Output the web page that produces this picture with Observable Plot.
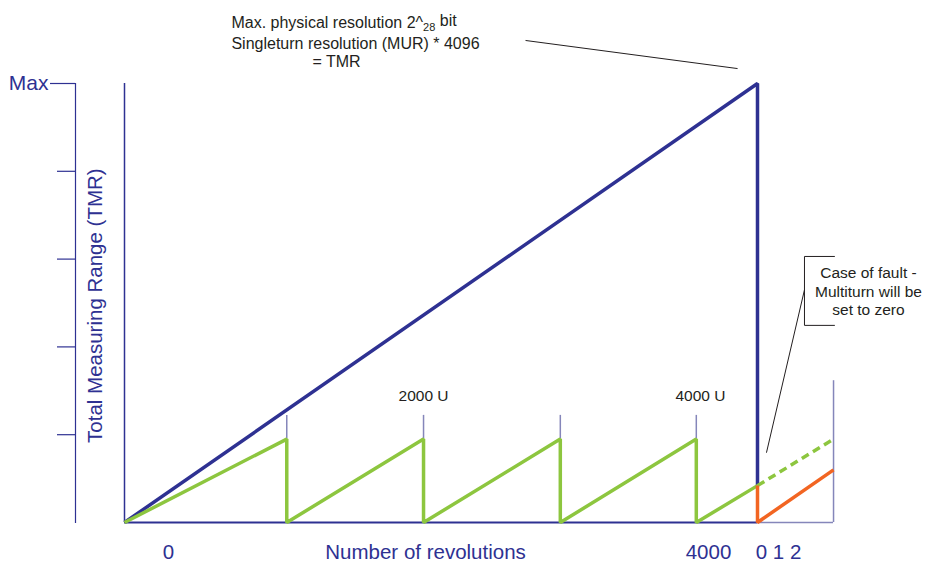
<!DOCTYPE html>
<html>
<head>
<meta charset="utf-8">
<script src="https://cdn.jsdelivr.net/npm/d3@7"></script>
<script src="https://cdn.jsdelivr.net/npm/@observablehq/plot@0.6"></script>
<style>
  html, body { margin: 0; padding: 0; background: #fff; }
  #chart svg { display: block; font-family: "Liberation Sans", Arial, sans-serif; }
</style>
</head>
<body>
<div id="chart"></div>
<script>
// ---- data (revolutions on x, % of total measuring range on y) ----
const toothRevs = [1050, 1935, 2820, 3700];           // multiturn step marks
const fullRev = 4096;                                  // max revolutions
const endRev = 4588;                                   // right end after restart (0 1 2)
const singleturnRev = [0, 1050, 1050, 1935, 1935, 2820, 2820, 3700, 3700, 4096];
const singleturnVal = [0, 19, 0, 19, 0, 19, 0, 19, 0, 8.4];
const totalRev = [0, 4096, 4096];
const totalVal = [0, 100, 8.4];
const projectedRev = [4096, 4588];
const projectedVal = [8.4, 19];
const faultRev = [4096, 4096, 4588];
const faultVal = [8.4, 0, 12];
const yTicks = [20, 40, 60, 80];
const yMax = 100;
const xTickLabels = ["0", "4000", "0 1 2"];
const xTickRevs = [285, 3779, 4232];
const stepLabels = ["2000 U", "4000 U"];
const stepLabelRevs = [1935, 3727];

const toPts = (xs, ys) => xs.map((x, i) => ({x, y: ys[i]}));

const NAVY = "#2e3192";
const GREEN = "#8dc63f";
const ORANGE = "#f26522";
const LIGHT = "#8586ba";
const INK = "#231f20";

const lineOpts = {x: "x", y: "y", strokeWidth: 3.5, strokeLinejoin: "miter", strokeLinecap: "butt"};

const plot = Plot.plot({
  width: 925,
  height: 565,
  marginLeft: 75,
  marginRight: 92,
  marginTop: 83,
  marginBottom: 43,
  style: {background: "#fff", overflow: "visible", fontFamily: "'Liberation Sans', Arial, sans-serif"},
  x: {domain: [0, fullRev], range: [124, 757], axis: null},
  y: {domain: [0, yMax], axis: null},
  marks: [
    // left axis line
    Plot.frame({anchor: "left", stroke: NAVY, strokeWidth: 1.2}),
    Plot.axisY(yTicks, {anchor: "left", tickSize: 18, tickFormat: () => "", stroke: NAVY, strokeWidth: 1.2}),
    Plot.axisY([yMax], {anchor: "left", tickSize: 25, tickPadding: 2, tickFormat: () => "Max",
      stroke: NAVY, strokeWidth: 1.2, fill: NAVY, fontSize: 21}),
    // inner frame
    Plot.ruleX([0], {y1: 0, y2: yMax, stroke: NAVY, strokeWidth: 1.5}),
    Plot.ruleY([0], {x1: 0, x2: fullRev, stroke: NAVY, strokeWidth: 2}),
    Plot.ruleY([0], {x1: fullRev, x2: endRev, stroke: LIGHT, strokeWidth: 1.5}),
    Plot.ruleX([endRev], {y1: 0, y2: 32.3, stroke: LIGHT, strokeWidth: 1.5}),
    Plot.ruleX(toothRevs, {y1: 19, y2: 24.4, stroke: LIGHT, strokeWidth: 1.5}),
    // series
    Plot.line(toPts(totalRev, totalVal), {...lineOpts, stroke: NAVY}),
    Plot.line(toPts(singleturnRev, singleturnVal), {...lineOpts, stroke: GREEN}),
    Plot.line(toPts(projectedRev, projectedVal), {...lineOpts, stroke: GREEN, strokeDasharray: "8,5"}),
    Plot.line(toPts(faultRev, faultVal), {...lineOpts, stroke: ORANGE}),
    // step labels
    Plot.text(stepLabels, {x: (d, i) => stepLabelRevs[i], y: 28.7, text: d => d, fontSize: 15.5, fill: INK}),
    // x labels
    Plot.text(xTickLabels, {x: (d, i) => xTickRevs[i], y: -6.8, text: d => d, fontSize: 20.5, fill: NAVY}),
    Plot.text(["Number of revolutions"], {x: 1948, y: -6.8, text: d => d, fontSize: 20.5, fill: NAVY}),
    // y label
    Plot.text(["Total Measuring Range (TMR)"], {x: -188, y: 49.4, text: d => d, rotate: -90, fontSize: 20.5, fill: NAVY}),
    // top annotation
    Plot.text(["Max. physical resolution 2^28 bit", "Singleturn resolution (MUR) * 4096"],
      {x: 692, y: (d, i) => [113.9, 109.1][i], text: d => d, textAnchor: "start", fontSize: 16, fill: INK}),
    Plot.text(["= TMR"], {x: 1216, y: 104.9, text: d => d, textAnchor: "start", fontSize: 16, fill: INK}),
    Plot.link([{x1: 2595, y1: 109.8, x2: 3967, y2: 103.4}], {x1: "x1", y1: "y1", x2: "x2", y2: "y2", stroke: INK, strokeWidth: 1}),
    // fault callout
    Plot.line(toPts([4594, 4400, 4400, 4594], [60.6, 60.6, 44.9, 44.9]), {x: "x", y: "y", stroke: INK, strokeWidth: 1, strokeLinejoin: "miter"}),
    Plot.link([{x1: 4400, y1: 53.0, x2: 4154, y2: 15.9}], {x1: "x1", y1: "y1", x2: "x2", y2: "y2", stroke: INK, strokeWidth: 1}),
    Plot.text(["Case of fault -\nMultiturn will be\nset to zero"], {x: 4814, y: 52.8, text: d => d, fontSize: 15.5, lineHeight: 1.2, fill: INK})
  ]
});

document.getElementById("chart").appendChild(plot);

// subscript "28" in the annotation
d3.select(plot).selectAll("text").each(function() {
  const t = d3.select(this);
  if (t.text() === "Max. physical resolution 2^28 bit") {
    t.text("");
    t.append("tspan").text("Max. physical resolution 2^");
    t.append("tspan").attr("font-size", 11).attr("dy", "0.3em").text("28");
    t.append("tspan").attr("dy", "-0.3em").text(" bit");
  }
});
</script>
</body>
</html>
